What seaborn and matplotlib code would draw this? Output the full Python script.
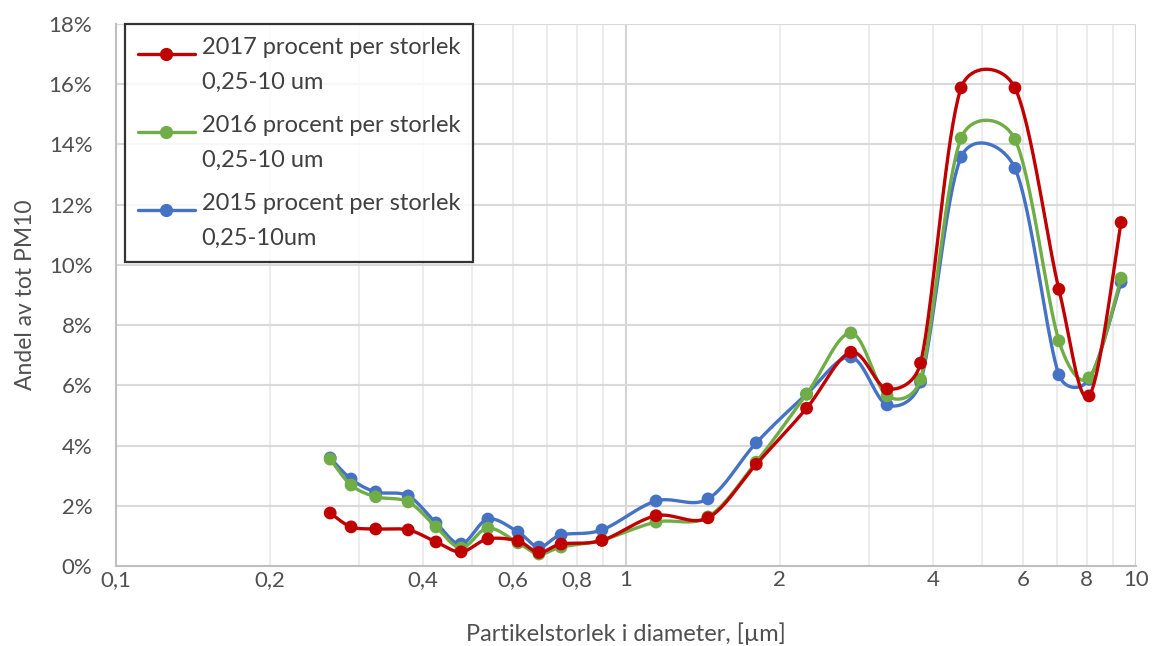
import numpy as np
import pandas as pd
import matplotlib
matplotlib.use("Agg")
import matplotlib.pyplot as plt
import seaborn as sns
from matplotlib.lines import Line2D
from matplotlib.ticker import FixedLocator, FuncFormatter, NullFormatter
from matplotlib.legend_handler import HandlerLine2D

# ---- data ----
sizes_um = [0.263, 0.289, 0.323, 0.374, 0.424, 0.475, 0.536, 0.614, 0.675, 0.746,
            0.897, 1.145, 1.448, 1.80, 2.26, 2.76, 3.25, 3.78, 4.54, 5.79,
            7.06, 8.09, 9.35]
pct_2017 = [1.76, 1.30, 1.23, 1.20, 0.80, 0.47, 0.90, 0.83, 0.45, 0.73,
            0.85, 1.67, 1.60, 3.38, 5.24, 7.10, 5.88, 6.74, 15.88, 15.88,
            9.19, 5.65, 11.41]
pct_2016 = [3.55, 2.69, 2.30, 2.13, 1.30, 0.60, 1.26, 0.77, 0.40, 0.63,
            0.86, 1.46, 1.63, 3.45, 5.71, 7.74, 5.65, 6.20, 14.21, 14.17,
            7.48, 6.25, 9.56]
pct_2015 = [3.59, 2.89, 2.46, 2.33, 1.43, 0.73, 1.56, 1.13, 0.63, 1.03,
            1.20, 2.16, 2.23, 4.09, 5.71, 6.94, 5.35, 6.11, 13.58, 13.21,
            6.35, 6.20, 9.43]
series_labels = ["2017 procent per storlek\n0,25-10 um",
                 "2016 procent per storlek\n0,25-10 um",
                 "2015 procent per storlek\n0,25-10um"]
series_colors = ["#C00000", "#70AD47", "#4472C4"]
x_tick_values = [0.1, 0.2, 0.4, 0.6, 0.8, 1, 2, 4, 6, 8, 10]
x_tick_labels = ["0,1", "0,2", "0,4", "0,6", "0,8", "1", "2", "4", "6", "8", "10"]
y_ticks = [0, 2, 4, 6, 8, 10, 12, 14, 16, 18]

sns.set_theme(style="white")
plt.rcParams["font.family"] = ["Lato", "DejaVu Sans"]

fig = plt.figure(figsize=(11.58, 6.46), dpi=100)
ax = fig.add_axes([0.1002, 0.1238, 0.8808, 0.839])
ax.set_xscale("log")
ax.set_xlim(0.1, 10)
ax.set_ylim(0, 18)


def excel_smooth(xs, ys, n=40):
    """Excel-style Bezier smoothing computed in display space."""
    pts = ax.transData.transform(np.column_stack([xs, ys]))
    m = len(pts)
    out = [pts[0]]
    for i in range(m - 1):
        p0 = pts[i - 1] if i > 0 else pts[i]
        p1 = pts[i]
        p2 = pts[i + 1]
        p3 = pts[i + 2] if i + 2 < m else pts[i + 1]
        d12 = np.hypot(*(p2 - p1))
        d02 = np.hypot(*(p2 - p0))
        d13 = np.hypot(*(p3 - p1))
        f0 = 1 / 6
        f1 = 1 / 6
        if d02 / 6 > d12 / 2 and d02 > 0:
            f0 = d12 / 2 / d02
        if d13 / 6 > d12 / 2 and d13 > 0:
            f1 = d12 / 2 / d13
        c1 = p1 + (p2 - p0) * f0
        c2 = p2 - (p3 - p1) * f1
        t = np.linspace(0, 1, n)[1:, None]
        b = ((1 - t) ** 3) * p1 + 3 * ((1 - t) ** 2) * t * c1 + 3 * (1 - t) * t ** 2 * c2 + t ** 3 * p2
        out.extend(b)
    out = np.array(out)
    data = ax.transData.inverted().transform(out)
    return data[:, 0], data[:, 1]


# grid
for v in [0.1, 0.2, 0.3, 0.4, 0.5, 0.6, 0.7, 0.8, 0.9, 2, 3, 4, 5, 6, 7, 8, 9]:
    ax.axvline(v, color="#EBEBEB", lw=1.3, zorder=0)
ax.axvline(1, color="#D4D4D4", lw=1.5, zorder=0)
ax.axvline(10, color="#D4D4D4", lw=1.5, zorder=0)
for v in y_ticks[1:]:
    ax.axhline(v, color="#D9D9D9", lw=1.5, zorder=0)

all_series = [pct_2017, pct_2016, pct_2015]
for idx in [2, 1, 0]:
    ys = all_series[idx]
    sx, sy = excel_smooth(sizes_um, ys)
    df_line = pd.DataFrame({"x": sx, "y": sy})
    sns.lineplot(data=df_line, x="x", y="y", sort=False, estimator=None,
                 color=series_colors[idx], lw=2.4, ax=ax, zorder=3 + (2 - idx))
    df_pts = pd.DataFrame({"x": sizes_um, "y": ys})
    sns.scatterplot(data=df_pts, x="x", y="y", color=series_colors[idx], s=85,
                    edgecolor="none", ax=ax, zorder=4 + (2 - idx))

ax.set_xlim(0.1, 10)
ax.set_ylim(0, 18)

ax.xaxis.set_major_locator(FixedLocator(x_tick_values))
ax.xaxis.set_major_formatter(FuncFormatter(lambda v, p: x_tick_labels[x_tick_values.index(v)] if v in x_tick_values else ""))
ax.xaxis.set_minor_formatter(NullFormatter())
ax.xaxis.set_minor_locator(FixedLocator([]))
ax.set_yticks(y_ticks)
ax.set_yticklabels([f"{v}%" for v in y_ticks])
ax.tick_params(axis="both", length=0, labelsize=16, colors="#505050")
ax.tick_params(axis="x", pad=3)
ax.tick_params(axis="y", pad=17)

for s in ["top", "right"]:
    ax.spines[s].set_visible(False)
for s in ["left", "bottom"]:
    ax.spines[s].set_color("#BFBFBF")
    ax.spines[s].set_linewidth(1.5)

ax.set_xlabel("Partikelstorlek i diameter, [µm]", fontsize=17, color="#505050", labelpad=23)
ax.set_ylabel("Andel av tot PM10", fontsize=16.5, color="#505050", labelpad=9)


class TopHandler(HandlerLine2D):
    def create_artists(self, legend, orig_handle, xdescent, ydescent, width, height, fontsize, trans):
        return super().create_artists(legend, orig_handle, xdescent, ydescent - 0.92 * fontsize,
                                      width, height, fontsize, trans)


handles = [Line2D([], [], color=c, lw=2.4, marker="o", markersize=8.5) for c in series_colors]
leg = ax.legend(handles, series_labels, loc="upper left", bbox_to_anchor=(0.0088, 1.0),
                borderaxespad=0, frameon=True, fancybox=False, fontsize=17,
                handlelength=2.4, handletextpad=0.3, labelspacing=0.95,
                borderpad=0.55, handler_map={Line2D: TopHandler()})
leg.get_frame().set_edgecolor("black")
leg.get_frame().set_linewidth(1.6)
for t in leg.get_texts():
    t.set_color("#404040")
    t.set_linespacing(1.8)
leg.set_zorder(10)

fig.savefig("out.png", dpi=100)
